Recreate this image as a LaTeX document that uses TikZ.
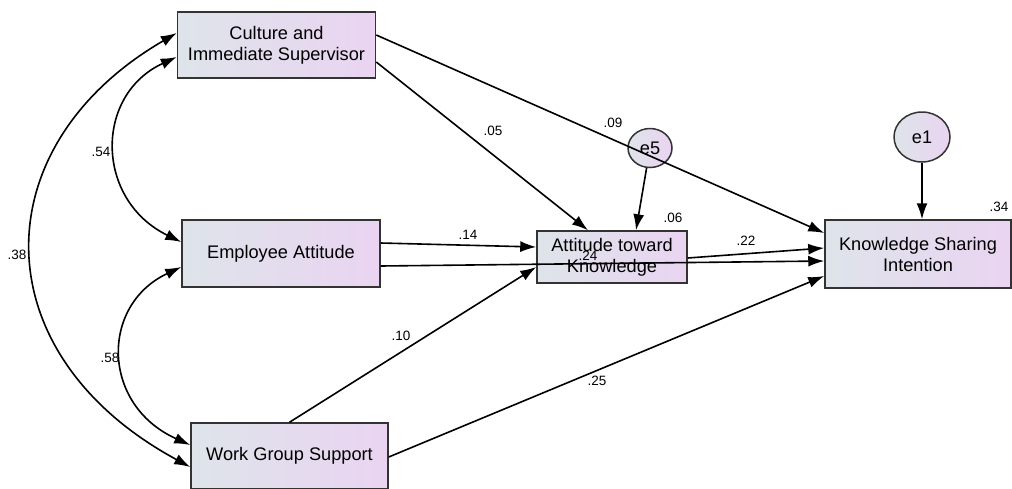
\documentclass[tikz,border=0pt]{standalone}
\usepackage{fontspec}
\setmainfont{Liberation Sans}
\usetikzlibrary{arrows.meta,shapes.geometric}
\definecolor{boxL}{HTML}{DEE4EA}
\definecolor{boxR}{HTML}{EAD4F1}
\definecolor{edge}{HTML}{333333}
\begin{document}
\begin{tikzpicture}[x=1pt,y=-1pt,
  obs/.style={draw=edge, line width=1.5pt, left color=boxL, right color=boxR,
    align=center, font=\fontsize{18.2}{21}\selectfont, inner sep=0pt},
  err/.style={ellipse, draw=edge, line width=1.5pt, left color=boxL, right color=boxR,
    inner sep=0pt, font=\fontsize{18.2}{21}\selectfont},
  tip/.tip={Latex[length=16pt,width=11pt]},
  regr/.style={-tip, line width=1.6pt},
  cov/.style={tip-tip, line width=1.6pt},
  coef/.style={font=\fontsize{13.5}{15}\selectfont, inner sep=0pt}]
\useasboundingbox (0,0) rectangle (1012,488);

% observed variables
\node[obs, minimum width=198pt, minimum height=66pt] (cul) at (276.5,45) {Culture and\\Immediate Supervisor};
\node[obs, minimum width=198pt, minimum height=67pt] (ea)  at (281,253.5) {Employee Attitude};
\node[obs, minimum width=197pt, minimum height=66pt] (wgs) at (289.5,456) {Work Group Support};
\node[obs, minimum width=150pt, minimum height=52pt] (atk) at (612,257) {Attitude toward\\Knowledge};
\node[obs, minimum width=186pt, minimum height=68pt] (ksi) at (918,254) {Knowledge Sharing\\Intention};

% error terms
\node[err, minimum width=44pt, minimum height=39pt] (e5) at (650,148) {e5};
\node[err, minimum width=56pt, minimum height=50pt] (e1) at (922,137) {e1};

% regression paths
\draw[regr] ([yshift=-17pt]cul.east) -- ([xshift=-24pt]atk.north);
\draw[regr] ([yshift=10pt]cul.east) -- ([yshift=21pt]ksi.west);
\draw[regr] ([yshift=10.5pt]ea.east) -- ([yshift=10pt]atk.west);
\draw[regr] ([yshift=-12.5pt]ea.east) -- ([yshift=-7pt]ksi.west);
\draw[regr] ([yshift=-1pt]atk.east) -- ([yshift=6pt]ksi.west);
\draw[regr] (wgs.north) -- ([yshift=-10pt]atk.west);
\draw[regr] ([yshift=-1pt]wgs.east) -- ([yshift=-22pt]ksi.west);
\draw[regr] (e5) -- ([xshift=24pt]atk.north);
\draw[regr] (e1) -- (e1 |- ksi.north);

% covariances
\draw[cov] ([yshift=-12pt]cul.west) .. controls (94,95) and (95,200) .. ([yshift=11.5pt]ea.west);
\draw[cov] ([yshift=-13.5pt]ea.west) .. controls (100,305) and (101,405) .. ([yshift=11pt]wgs.west);
\draw[cov] ([yshift=12pt]cul.west) .. controls (-18,146) and (-19,354) .. ([yshift=-11pt]wgs.west);

% estimates
\node[coef] (c05) at (493,131) {.05};
\node[coef] (c09) at (613,123) {.09};
\node[coef] (c14) at (468,235) {.14};
\node[coef] (c24) at (588,256) {.24};
\node[coef] (c22) at (746,241) {.22};
\node[coef] (c10) at (401,336) {.10};
\node[coef] (c25) at (597,381) {.25};
\node[coef] (c54) at (101,152) {.54};
\node[coef] (c58) at (110,358) {.58};
\node[coef] (c38) at (17,255) {.38};
\node[coef] (r06) at (673,218) {.06};
\node[coef] (r34) at (999,207) {.34};
\end{tikzpicture}
\end{document}
